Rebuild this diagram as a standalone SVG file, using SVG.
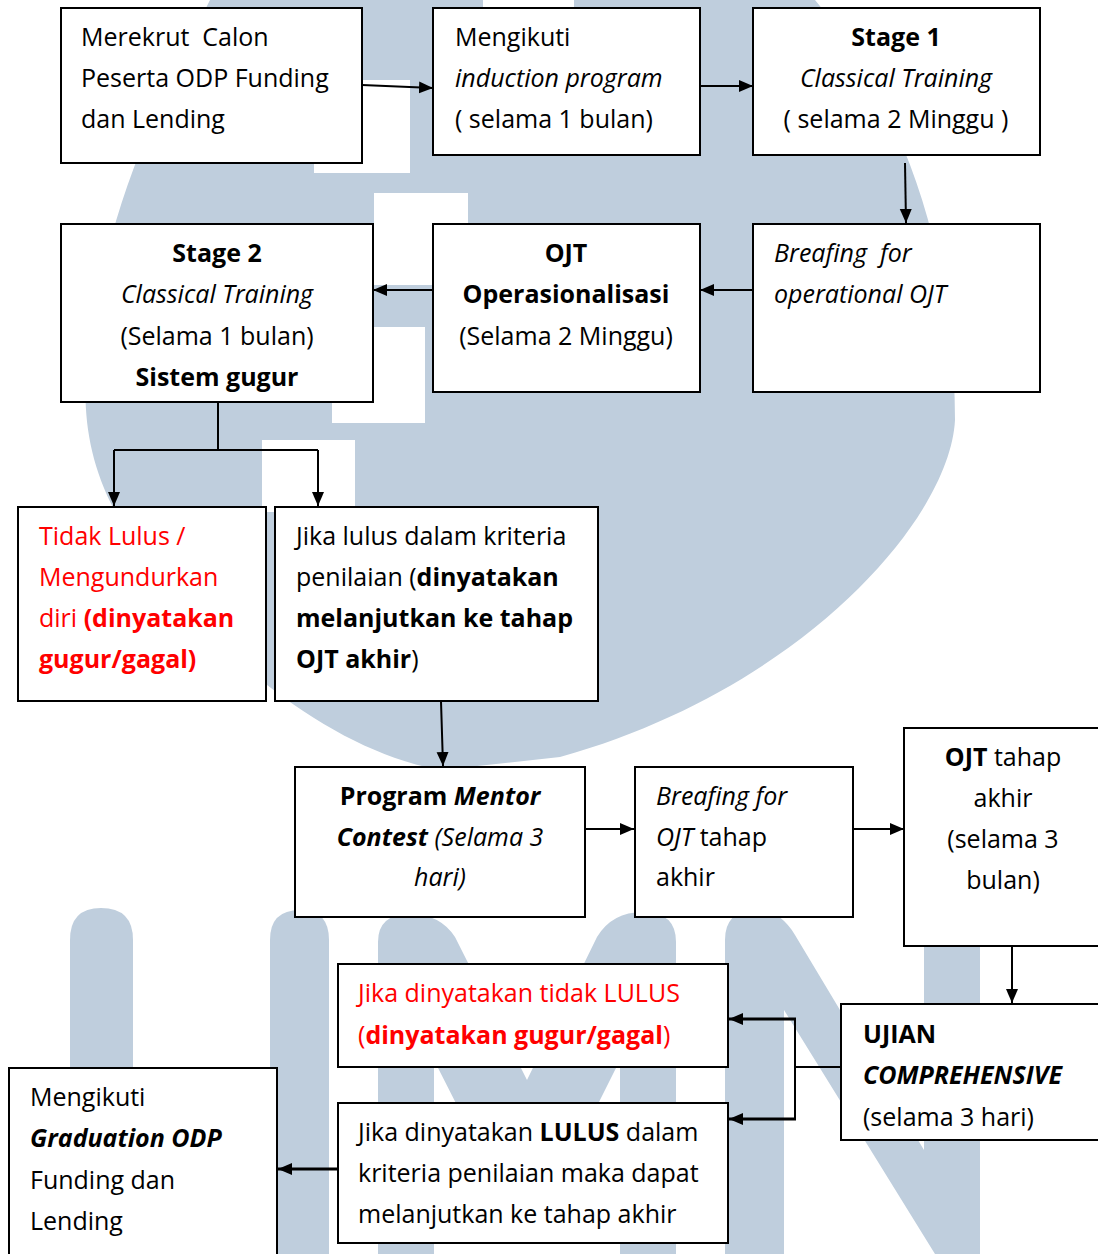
<svg xmlns="http://www.w3.org/2000/svg" width="1098" height="1254" viewBox="0 0 1098 1254">
<style>
  .wm { fill: #bfcedd; }
  .wmw { fill: #ffffff; }
  .box { fill: #ffffff; stroke: #000000; stroke-width: 2; }
  text { font-family: "Open Sans", "Noto Sans", sans-serif; font-size: 25px; fill: #000000; }
  .c { text-anchor: middle; }
  .b { font-weight: bold; }
  .i { font-style: italic; }
  .red { fill: #ff0000; }
  .ln { fill: none; stroke: #000000; stroke-width: 2; }
  .ln3 { fill: none; stroke: #000000; stroke-width: 3; }
</style>
<defs>
  <marker id="ah" markerUnits="userSpaceOnUse" markerWidth="14" markerHeight="14" refX="14" refY="7" orient="auto">
    <path d="M0,1 L14,7 L0,13 Z" fill="#000000"/>
  </marker>
</defs>
<rect width="1098" height="1254" fill="#ffffff"/>
<g id="watermark">
  <path class="wm" d="M210,0 L815,0 C900,100 955,250 955,420 C950,520 800,690 560,757 L440,770 C330,750 200,650 120,520 C85,460 80,400 90,340 C110,200 160,100 210,0 Z"/>
  <rect class="wmw" x="483" y="0" width="91" height="8"/>
  <rect class="wmw" x="314" y="80" width="96" height="93"/>
  <rect class="wmw" x="374" y="193" width="94" height="92"/>
  <rect class="wmw" x="332" y="327" width="93" height="96"/>
  <rect class="wmw" x="262" y="440" width="93" height="72"/>
  <path class="wm" d="M70,1254 V940 Q70,908 101,908 Q133,908 133,940 V1254 Z"/>
  <path class="wm" d="M270,1254 V940 Q270,910 300,910 Q329,910 329,940 V1254 Z"/>
  <path class="wm" d="M378,1254 V942 Q378,914 410,914 Q440,914 455,937 L527,1080 L597,937 Q612,912 643,912 Q676,912 676,942 V1254 H620 V1060 L550,1200 H505 L434,1060 V1254 Z"/>
  <path class="wm" d="M725,1254 V940 Q725,910 757,910 Q780,910 795,935 L924,1150 V940 Q924,910 952,910 Q980,910 980,940 V1254 H935 L784,1010 V1254 Z"/>
</g>
<g id="connectors">
  <line class="ln" x1="362" y1="85" x2="433" y2="88" marker-end="url(#ah)"/>
  <line class="ln" x1="700" y1="86" x2="753" y2="86" marker-end="url(#ah)"/>
  <line class="ln" x1="905" y1="163" x2="906" y2="223" marker-end="url(#ah)"/>
  <line class="ln" x1="758" y1="290" x2="700" y2="290" marker-end="url(#ah)"/>
  <line class="ln" x1="433" y1="290" x2="373" y2="290" marker-end="url(#ah)"/>
  <polyline class="ln" points="218,393 218,450"/>
  <polyline class="ln" points="114,450 318,450"/>
  <line class="ln" x1="114" y1="450" x2="114" y2="506" marker-end="url(#ah)"/>
  <line class="ln" x1="318" y1="450" x2="318" y2="506" marker-end="url(#ah)"/>
  <line class="ln" x1="441" y1="701" x2="443" y2="766" marker-end="url(#ah)"/>
  <line class="ln" x1="585" y1="829" x2="634" y2="829" marker-end="url(#ah)"/>
  <line class="ln" x1="853" y1="829" x2="904" y2="829" marker-end="url(#ah)"/>
  <line class="ln" x1="1012" y1="946" x2="1012" y2="1003" marker-end="url(#ah)"/>
  <polyline class="ln" points="841,1067 795,1067"/>
  <polyline class="ln" points="795,1019 795,1119"/>
  <line class="ln3" x1="796" y1="1019" x2="729" y2="1019" marker-end="url(#ah)"/>
  <line class="ln3" x1="796" y1="1119" x2="729" y2="1119" marker-end="url(#ah)"/>
  <line class="ln3" x1="338" y1="1169" x2="278" y2="1169" marker-end="url(#ah)"/>
</g>
<g id="node-merekrut">
  <rect class="box" x="61" y="8" width="301" height="155"/>
  <text x="81" y="46" xml:space="preserve">Merekrut  Calon</text>
  <text x="81" y="87">Peserta ODP Funding</text>
  <text x="81" y="128">dan Lending</text>
</g>
<g id="node-induction">
  <rect class="box" x="433" y="8" width="267" height="147"/>
  <text x="455" y="46">Mengikuti</text>
  <text x="455" y="87" class="i">induction program</text>
  <text x="455" y="128">( selama 1 bulan)</text>
</g>
<g id="node-stage1">
  <rect class="box" x="753" y="8" width="287" height="147"/>
  <text x="896" y="46" class="c b">Stage 1</text>
  <text x="896" y="87" class="c i">Classical Training</text>
  <text x="896" y="128" class="c">( selama 2 Minggu )</text>
</g>
<g id="node-breafing1">
  <rect class="box" x="753" y="224" width="287" height="168"/>
  <text x="774" y="262" class="i" xml:space="preserve">Breafing  for</text>
  <text x="774" y="303" class="i">operational OJT</text>
</g>
<g id="node-ojt-op">
  <rect class="box" x="433" y="224" width="267" height="168"/>
  <text x="566" y="262" class="c b">OJT</text>
  <text x="566" y="303" class="c b">Operasionalisasi</text>
  <text x="566" y="345" class="c">(Selama 2 Minggu)</text>
</g>
<g id="node-stage2">
  <rect class="box" x="61" y="224" width="312" height="178"/>
  <text x="217" y="262" class="c b">Stage 2</text>
  <text x="217" y="303" class="c i">Classical Training</text>
  <text x="217" y="345" class="c">(Selama 1 bulan)</text>
  <text x="217" y="386" class="c b">Sistem gugur</text>
</g>
<g id="node-tidak-lulus">
  <rect class="box" x="18" y="507" width="248" height="194"/>
  <text x="39" y="545" class="red">Tidak Lulus /</text>
  <text x="39" y="586" class="red">Mengundurkan</text>
  <text x="39" y="627" class="red">diri <tspan class="b">(dinyatakan</tspan></text>
  <text x="39" y="668" class="red b">gugur/gagal)</text>
</g>
<g id="node-lulus">
  <rect class="box" x="275" y="507" width="323" height="194"/>
  <text x="296" y="545">Jika lulus dalam kriteria</text>
  <text x="296" y="586">penilaian (<tspan class="b">dinyatakan</tspan></text>
  <text x="296" y="627" class="b">melanjutkan ke tahap</text>
  <text x="296" y="668"><tspan class="b">OJT akhir</tspan>)</text>
</g>
<g id="node-mentor">
  <rect class="box" x="295" y="767" width="290" height="150"/>
  <text x="440" y="805" class="c b">Program <tspan class="i">Mentor</tspan></text>
  <text x="440" y="846" class="c"><tspan class="b i">Contest</tspan><tspan class="i"> (Selama 3</tspan></text>
  <text x="440" y="886" class="c i">hari)</text>
</g>
<g id="node-breafing2">
  <rect class="box" x="635" y="767" width="218" height="150"/>
  <text x="656" y="805" class="i">Breafing for</text>
  <text x="656" y="846"><tspan class="i">OJT</tspan> tahap</text>
  <text x="656" y="886">akhir</text>
</g>
<g id="node-ojt-akhir">
  <rect class="box" x="904" y="728" width="200" height="218"/>
  <text x="1003" y="766" class="c"><tspan class="b">OJT</tspan> tahap</text>
  <text x="1003" y="807" class="c">akhir</text>
  <text x="1003" y="848" class="c">(selama 3</text>
  <text x="1003" y="889" class="c">bulan)</text>
</g>
<g id="node-ujian">
  <rect class="box" x="841" y="1004" width="263" height="136"/>
  <text x="863" y="1043" class="b">UJIAN</text>
  <text x="863" y="1084" class="b i">COMPREHENSIVE</text>
  <text x="863" y="1126">(selama 3 hari)</text>
</g>
<g id="node-tidak-lulus2">
  <rect class="box" x="338" y="964" width="390" height="103"/>
  <text x="358" y="1002" class="red">Jika dinyatakan tidak LULUS</text>
  <text x="358" y="1044" class="red">(<tspan class="b">dinyatakan gugur/gagal</tspan>)</text>
</g>
<g id="node-lulus2">
  <rect class="box" x="338" y="1103" width="390" height="140"/>
  <text x="358" y="1141">Jika dinyatakan <tspan class="b">LULUS</tspan> dalam</text>
  <text x="358" y="1182">kriteria penilaian maka dapat</text>
  <text x="358" y="1223">melanjutkan ke tahap akhir</text>
</g>
<g id="node-graduation">
  <rect class="box" x="9" y="1068" width="268" height="200"/>
  <text x="30" y="1106">Mengikuti</text>
  <text x="30" y="1147" class="b i">Graduation ODP</text>
  <text x="30" y="1189">Funding dan</text>
  <text x="30" y="1230">Lending</text>
</g>
</svg>
